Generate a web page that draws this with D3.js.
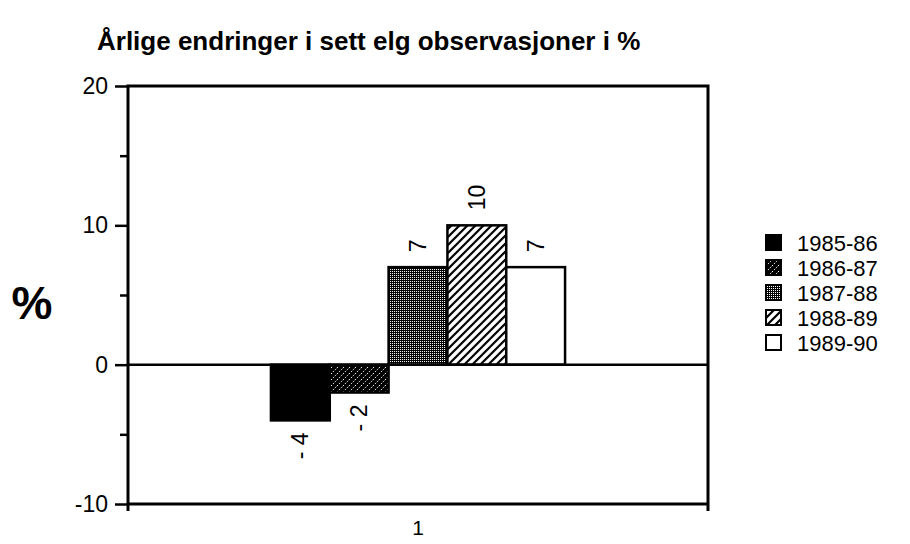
<!DOCTYPE html>
<html>
<head>
<meta charset="utf-8">
<script src="https://cdn.jsdelivr.net/npm/d3@7"></script>
<style>
  body { margin: 0; background: #fff; }
  text { font-family: "Liberation Sans", Arial, sans-serif; fill: #000; }
</style>
</head>
<body>
<svg id="chart" width="910" height="544"></svg>
<script>
// Data
const categories = ["1"];
const seasons = ["1985-86", "1986-87", "1987-88", "1988-89", "1989-90"];
const values = [-4, -2, 7, 10, 7];
const yTicks = [-10, 0, 10, 20];
const yMinorTicks = [-5, 5, 15];

const svg = d3.select("#chart"),
    margin = { top: 86, right: 202, bottom: 40, left: 128 },
    width = +svg.attr("width") - margin.left - margin.right,
    height = +svg.attr("height") - margin.top - margin.bottom,
    g = svg.append("g").attr("transform", `translate(${margin.left},${margin.top})`);

// Fill patterns, one per season
const defs = svg.append("defs");

const pDark = defs.append("pattern").attr("id", "hatchDark")
    .attr("patternUnits", "userSpaceOnUse").attr("width", 6).attr("height", 6);
pDark.append("rect").attr("width", 6).attr("height", 6).attr("fill", "#000");
pDark.append("path").attr("d", "M0,6 L6,0 M-1,1 L1,-1 M5,7 L7,5")
    .attr("stroke", "#fff").attr("stroke-width", 1).attr("stroke-dasharray", "1.5,1.5");

const pDots = defs.append("pattern").attr("id", "dots")
    .attr("patternUnits", "userSpaceOnUse").attr("width", 2).attr("height", 2);
pDots.append("rect").attr("width", 2).attr("height", 2).attr("fill", "#000");
pDots.append("rect").attr("x", 1).attr("y", 1).attr("width", 1).attr("height", 1).attr("fill", "#fff");

const pLight = defs.append("pattern").attr("id", "hatchLight")
    .attr("patternUnits", "userSpaceOnUse").attr("width", 8).attr("height", 8);
pLight.append("rect").attr("width", 8).attr("height", 8).attr("fill", "#fff");
pLight.append("path").attr("d", "M-2,2 L2,-2 M0,8 L8,0 M6,10 L10,6")
    .attr("stroke", "#000").attr("stroke-width", 2.2);

const fills = ["#000", "url(#hatchDark)", "url(#dots)", "url(#hatchLight)", "#fff"];
const color = d3.scaleOrdinal().domain(seasons).range(fills);

// Scales
const x0 = d3.scaleBand().domain(categories).range([0, width])
    .paddingInner(0).paddingOuter(0.486);
const x1 = d3.scaleBand().domain(seasons).range([0, x0.bandwidth()]);
const y = d3.scaleLinear().domain([-10, 20]).range([height, 0]);

const rows = seasons.map((s, i) => ({ season: s, value: values[i] }));

// Title
svg.append("text")
    .attr("x", 97).attr("y", 50)
    .style("font-size", "26px").style("font-weight", "bold")
    .text("Årlige endringer i sett elg observasjoner i %");

// Y axis label
svg.append("text")
    .attr("x", 32).attr("y", 319)
    .attr("text-anchor", "middle")
    .style("font-size", "46px").style("font-weight", "bold")
    .text("%");

// Y axis, major and minor ticks
const yAxis = g.append("g")
    .call(d3.axisLeft(y).tickValues(yTicks).tickSize(13).tickPadding(7).tickFormat(d => String(d)));
yAxis.select(".domain").remove();
yAxis.selectAll("line").attr("stroke-width", 2.5);
yAxis.selectAll("text").style("font-size", "23px").attr("fill", "#000");

const yMinor = g.append("g")
    .call(d3.axisLeft(y).tickValues(yMinorTicks).tickSize(8).tickFormat(""));
yMinor.select(".domain").remove();
yMinor.selectAll("line").attr("stroke-width", 2.5);

// X axis label
const xAxis = g.append("g")
    .attr("transform", `translate(0,${height})`)
    .call(d3.axisBottom(x0).tickSize(0).tickPadding(16));
xAxis.select(".domain").remove();
xAxis.selectAll("text").style("font-size", "21px").attr("fill", "#000");

// Bars
const group = g.append("g").attr("transform", `translate(${x0(categories[0])},0)`);
group.selectAll("rect")
    .data(rows)
    .enter().append("rect")
    .attr("x", d => x1(d.season))
    .attr("width", x1.bandwidth())
    .attr("y", d => y(Math.max(0, d.value)))
    .attr("height", d => Math.abs(y(d.value) - y(0)))
    .attr("fill", d => color(d.season))
    .attr("stroke", "#000")
    .attr("stroke-width", 2.5);

// Value labels, rotated
group.selectAll(".val")
    .data(rows)
    .enter().append("text")
    .attr("class", "val")
    .attr("transform", d => {
        const cx = x1(d.season) + x1.bandwidth() / 2;
        const yy = d.value >= 0 ? y(d.value) - 15 : y(d.value) + 12;
        return `translate(${cx},${yy}) rotate(-90)`;
    })
    .attr("dy", "0.35em")
    .attr("text-anchor", d => d.value >= 0 ? "start" : "end")
    .style("font-size", "23px")
    .text(d => d.value < 0 ? "- " + Math.abs(d.value) : d.value);

// Zero line
g.append("line")
    .attr("x1", 0).attr("x2", width)
    .attr("y1", y(0)).attr("y2", y(0))
    .attr("stroke", "#000").attr("stroke-width", 2.5);

// Frame; the side lines run a little below the bottom
g.append("path")
    .attr("d", `M0,${height + 7} V0 H${width} V${height + 7} M0,${height} H${width}`)
    .attr("fill", "none").attr("stroke", "#000").attr("stroke-width", 3);

// Legend
const legend = svg.selectAll(".legend")
    .data(seasons)
    .enter().append("g")
    .attr("class", "legend")
    .attr("transform", (d, i) => `translate(766,${235 + i * 25})`);

legend.append("rect")
    .attr("width", 15).attr("height", 15)
    .attr("fill", d => color(d))
    .attr("stroke", "#000").attr("stroke-width", 2);

legend.append("text")
    .attr("x", 31).attr("y", 8)
    .attr("dy", "0.35em")
    .style("font-size", "22px")
    .text(d => d);
</script>
</body>
</html>
